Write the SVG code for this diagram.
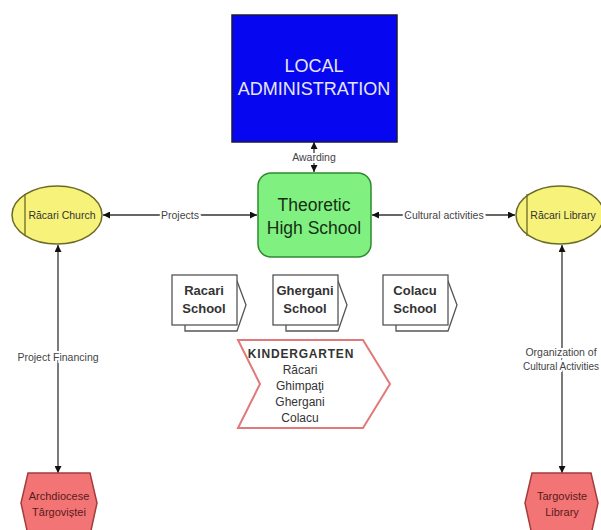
<svg xmlns="http://www.w3.org/2000/svg" width="601" height="530" viewBox="0 0 601 530">
<style>
text{font-family:"Liberation Sans",Arial,sans-serif;text-anchor:middle}
.lbl{font-size:10.5px;fill:#444;stroke:#fff;stroke-width:4px;paint-order:stroke}
.conn{stroke:#333;stroke-width:1.3;fill:none}
.ell{fill:#f7f27a;stroke:#6b6a25;stroke-width:1.5}
.hex{fill:#f27474;stroke:#a33c3c;stroke-width:1.5}
.hexT{font-size:11px;fill:#5a1a1a}
.doc{fill:#fff;stroke:#555;stroke-width:1.3}
.docT{font-size:13px;font-weight:bold;fill:#333}
.kT{font-size:12px;fill:#333}
</style>
<defs>
<marker id="ah" viewBox="0 0 10 10" refX="10" refY="5" markerWidth="7" markerHeight="7" orient="auto-start-reverse" markerUnits="userSpaceOnUse">
<path d="M0,0 L10,5 L0,10 z" fill="#111"/>
</marker>
</defs>
<rect width="601" height="530" fill="#fff"/>
<g id="connectors">
<line class="conn" x1="314" y1="142" x2="314" y2="172" marker-start="url(#ah)" marker-end="url(#ah)"/>
<text class="lbl" x="314" y="161">Awarding</text>
<line class="conn" x1="103" y1="215" x2="257" y2="215" marker-start="url(#ah)" marker-end="url(#ah)"/>
<text class="lbl" x="180" y="219">Projects</text>
<line class="conn" x1="372" y1="215" x2="515" y2="215" marker-start="url(#ah)" marker-end="url(#ah)"/>
<text class="lbl" x="444" y="219">Cultural activities</text>
<line class="conn" x1="58" y1="245" x2="58" y2="473" marker-start="url(#ah)" marker-end="url(#ah)"/>
<text class="lbl" x="58" y="361">Project Financing</text>
<line class="conn" x1="562" y1="245" x2="562" y2="473" marker-start="url(#ah)" marker-end="url(#ah)"/>
<text class="lbl" x="561" y="356" font-size="10">Organization of</text>
<text class="lbl" x="561" y="370" font-size="10" style="font-size:10px">Cultural Activities</text>
</g>
<g id="local-administration">
<rect x="232" y="15" width="165" height="127" fill="#0606f0" stroke="#1a1a40" stroke-width="1.5"/>
<text x="314" y="72" font-size="18" fill="#e6e6f2">LOCAL</text>
<text x="314" y="95" font-size="18" fill="#e6e6f2">ADMINISTRATION</text>
</g>
<g id="theoretic-high-school">
<rect x="258" y="173" width="113" height="84" rx="13" fill="#80f080" stroke="#2f8a2f" stroke-width="1.5"/>
<text x="314" y="211" font-size="17.5" fill="#163016">Theoretic</text>
<text x="314" y="234" font-size="17.5" fill="#163016">High School</text>
</g>
<g id="racari-church">
<ellipse class="ell" cx="57" cy="215" rx="45" ry="29"/>
<line x1="25" y1="194" x2="25" y2="236" stroke="#6b6a25" stroke-width="1.3"/>
<text x="62" y="219" font-size="10.5" fill="#333">Răcari Church</text>
</g>
<g id="racari-library">
<ellipse class="ell" cx="560" cy="215" rx="44" ry="29"/>
<line x1="527" y1="194" x2="527" y2="236" stroke="#6b6a25" stroke-width="1.3"/>
<text x="563" y="219" font-size="10.5" fill="#333">Răcari Library</text>
</g>
<g id="racari-school">
<polygon class="doc" points="185,281 237,281 246,305 237,331 185,331"/>
<rect class="doc" x="172" y="275" width="65" height="50"/>
<text class="docT" x="204" y="295">Racari</text>
<text class="docT" x="204" y="313">School</text>
</g>
<g id="ghergani-school">
<polygon class="doc" points="286,281 338,281 347,305 338,331 286,331"/>
<rect class="doc" x="273" y="275" width="65" height="50"/>
<text class="docT" x="305" y="295">Ghergani</text>
<text class="docT" x="305" y="313">School</text>
</g>
<g id="colacu-school">
<polygon class="doc" points="396,281 448,281 457,305 448,331 396,331"/>
<rect class="doc" x="383" y="275" width="65" height="50"/>
<text class="docT" x="415" y="295">Colacu</text>
<text class="docT" x="415" y="313">School</text>
</g>
<g id="kindergarten">
<polygon points="238,340 363,340 390,384 363,428 238,428 260,384" fill="#fff" stroke="#e07a7a" stroke-width="2"/>
<text x="301" y="358" font-size="12" font-weight="bold" fill="#333" letter-spacing="0.8">KINDERGARTEN</text>
<text class="kT" x="300" y="374">Răcari</text>
<text class="kT" x="300" y="390">Ghimpaţi</text>
<text class="kT" x="300" y="406">Ghergani</text>
<text class="kT" x="300" y="422">Colacu</text>
</g>
<g id="archdiocese-targovistei">
<polygon class="hex" points="28,473 90,473 97,503 90,535 28,535 21,503"/>
<text class="hexT" x="59" y="500">Archdiocese</text>
<text class="hexT" x="59" y="516">Târgoviștei</text>
</g>
<g id="targoviste-library">
<polygon class="hex" points="532,473 591,473 598,503 591,535 532,535 525,503"/>
<text class="hexT" x="562" y="500">Targoviste</text>
<text class="hexT" x="562" y="516">Library</text>
</g>
</svg>
